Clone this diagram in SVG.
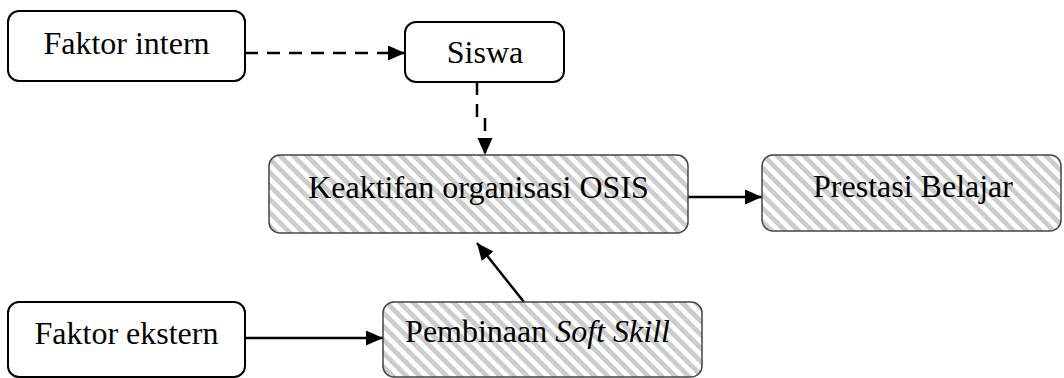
<svg xmlns="http://www.w3.org/2000/svg" width="1064" height="378" viewBox="0 0 1064 378">
<defs>
<pattern id="hatch" patternUnits="userSpaceOnUse" width="9.5" height="9.5" patternTransform="rotate(-45)">
<rect x="0" y="0" width="9.5" height="9.5" fill="#ffffff"/>
<rect x="0" y="0" width="4.8" height="9.5" fill="#cccccc"/>
</pattern>
<marker id="arr" markerUnits="userSpaceOnUse" markerWidth="18" markerHeight="16" refX="17" refY="7.5" orient="auto">
<path d="M0,0 L17,7.5 L0,15 z" fill="#000"/>
</marker>
<style>
.plain{fill:#fff;stroke:#000;stroke-width:2}
.hatched{fill:url(#hatch);stroke:#444;stroke-width:1.5}
.lbl{font-family:"Liberation Serif","Times New Roman",serif;font-size:32px;fill:#000;text-anchor:middle}
.con{fill:none;stroke:#000;stroke-width:2.5}
.dash{stroke-dasharray:13 9}
</style>
</defs>
<rect width="1064" height="378" fill="#fff"/>
<g id="connectors">
<path class="con dash" d="M245,53 H405" marker-end="url(#arr)"/>
<path class="con dash" d="M477,82 V118 H485 V155" marker-end="url(#arr)"/>
<path class="con" d="M688,197 H762" marker-end="url(#arr)"/>
<path class="con" d="M245,338 H383" marker-end="url(#arr)"/>
<path class="con" d="M524,302 L477,243" marker-end="url(#arr)"/>
</g>
<g id="faktor-intern">
<rect class="plain" x="8" y="11" width="237" height="70" rx="11"/>
<text class="lbl" x="126.5" y="54">Faktor intern</text>
</g>
<g id="siswa">
<rect class="plain" x="405" y="22" width="159" height="60" rx="11"/>
<text class="lbl" x="485" y="63">Siswa</text>
</g>
<g id="keaktifan">
<rect class="hatched" x="269" y="155" width="419" height="78" rx="11"/>
<text class="lbl" x="478.5" y="198">Keaktifan organisasi OSIS</text>
</g>
<g id="prestasi">
<rect class="hatched" x="762" y="155" width="299" height="76" rx="11"/>
<text class="lbl" x="913" y="197">Prestasi Belajar</text>
</g>
<g id="faktor-ekstern">
<rect class="plain" x="8" y="302" width="237" height="75" rx="11"/>
<text class="lbl" x="126.5" y="344">Faktor ekstern</text>
</g>
<g id="pembinaan">
<rect class="hatched" x="383" y="302" width="319" height="75" rx="11"/>
<text class="lbl" x="537.5" y="342">Pembinaan <tspan font-style="italic">Soft Skill</tspan></text>
</g>
</svg>
